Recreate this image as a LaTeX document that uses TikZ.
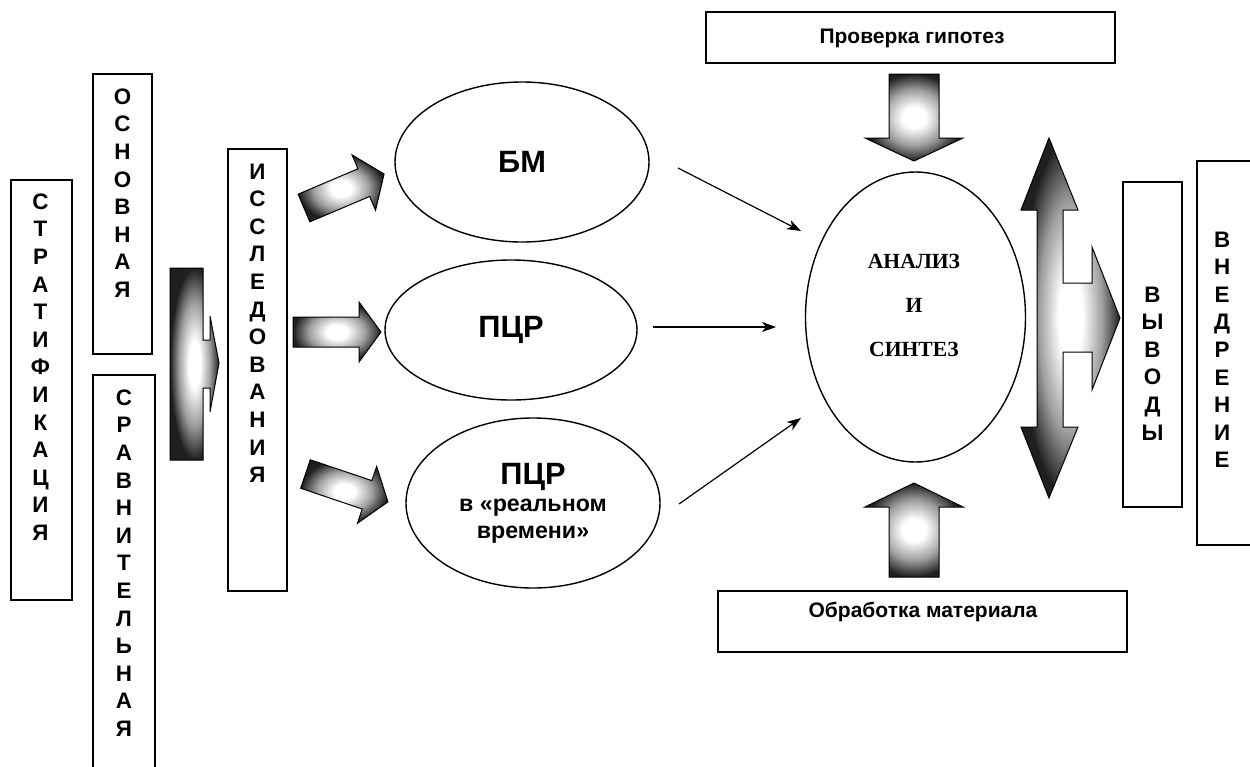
\documentclass[tikz,border=0pt]{standalone}
\usepackage{fontspec}
\setmainfont{Liberation Sans}
\newfontfamily\timesbold{Liberation Serif}
\usetikzlibrary{shapes.geometric,fit,calc,arrows.meta}
\pgfdeclareradialshading{glow}{\pgfpoint{0bp}{0bp}}{color(0bp)=(white); color(6bp)=(white); color(16bp)=(black!38); color(25bp)=(black!88); color(50bp)=(black!88)}

\begin{document}
\begin{tikzpicture}[x=0.5pt,y=-0.5pt]
    % `box' is used for the framed blocks, `letters' for words set letter by letter.
    % `oval' is used for the methods, `fat' for the shaded block arrows.
    % `link' is used for the thin arrows into the analysis.
    \tikzstyle{box} = [draw,line width=0.8pt,inner sep=0pt]
    \tikzstyle{letters} = [anchor=north,align=center,inner sep=0pt,font=\fontsize{11.2}{13.8}\selectfont\bfseries]
    \tikzstyle{oval} = [draw,ellipse,line width=0.7pt,inner sep=0pt,align=center,font=\fontsize{15.4}{18}\selectfont\bfseries]
    \tikzstyle{fat} = [draw,line width=0.5pt,shade,shading=glow]
    \tikzstyle{link} = [line width=0.6pt,-{Stealth[length=7pt,width=5pt,inset=2pt]}]
    \tikzstyle{caption} = [inner sep=0pt,font=\fontsize{10.5}{12}\selectfont\bfseries]
    \useasboundingbox (0,0) rectangle (1250,767);
    %
    % Left column of framed words.
    \node[box,fit={(11,180) (72,600)}] (strat) {};
    \node[letters] (strattext) at ($(strat.north)+(-1,14)$)
      {С\\Т\\Р\\А\\Т\\И\\Ф\\И\\К\\А\\Ц\\И\\Я};
    \node[box,fit={(93,74) (152,354)}] (osn) {};
    \node[letters] (osntext) at ($(osn.north)+(0,15)$)
      {О\\С\\Н\\О\\В\\Н\\А\\Я};
    \node[box,fit={(93,375) (155,790)}] (srav) {};
    \node[letters] (sravtext) at ($(srav.north)+(0,15)$)
      {С\\Р\\А\\В\\Н\\И\\Т\\Е\\Л\\Ь\\Н\\А\\Я};
    \node[box,fit={(228,149) (287,591)}] (issl) {};
    \node[letters] (issltext) at ($(issl.north)+(0,15)$)
      {И\\С\\С\\Л\\Е\\Д\\О\\В\\А\\Н\\И\\Я};
    %
    % Methods.
    \node[oval,minimum width=127pt,minimum height=80pt] (bm) at (522,162) {БМ};
    \node[oval,minimum width=126pt,minimum height=70pt] (pcr) at (511,330) {ПЦР};
    \node[oval,minimum width=127pt,minimum height=85pt,font=\fontsize{11.6}{13.5}\selectfont\bfseries] (rt) at (533,503)
      {{\fontsize{15.4}{13.5}\selectfont ПЦР}\\в «реальном\\времени»};
    %
    % Analysis and the blocks round it.
    \node[draw,ellipse,line width=0.7pt,minimum width=110pt,minimum height=145pt] (anal) at (915.5,317) {};
    \node[align=center,inner sep=0pt,font=\fontsize{10.8}{22}\selectfont\timesbold\bfseries] (analtext) at (914,305)
      {АНАЛИЗ\\И\\СИНТЕЗ};
    \node[box,fit={(706,12) (1115,63)}] (hyp) {};
    \node[caption,anchor=base] (hyptext) at (912,43) {Проверка гипотез};
    \node[box,fit={(718,591) (1127,652)}] (mat) {};
    \node[caption] (mattext) at (923,612) {Обработка материала};
    \node[box,fit={(1123,182) (1182,507)}] (vyv) {};
    \node[letters] (vyvtext) at ($(vyv.north)+(0,105)$)
      {В\\Ы\\В\\О\\Д\\Ы};
    \node[box,fit={(1197,161) (1265,545)}] (vned) {};
    \node[letters] (vnedtext) at ($(vned.north west)+(26,71)$)
      {В\\Н\\Е\\Д\\Р\\Е\\Н\\И\\Е};
    %
    % Thin links.
    \coordinate (bmout) at (678,168);  \coordinate (analin1) at (801,231);
    \coordinate (pcrout) at (653,327); \coordinate (analin2) at (776,327);
    \coordinate (rtout) at (679,504);  \coordinate (analin3) at (801,418);
    \draw[link] (bmout) -- (analin1);
    \draw[link] (pcrout) -- (analin2);
    \draw[link] (rtout) -- (analin3);
    %
    % Shaded block arrows.
    \path[fat] (170,268) -- (203,268) -- (203,340) -- (210,340) -- (210,316) -- (219,363)
      -- (210,412) -- (210,388) -- (203,388) -- (203,460) -- (170,460) -- cycle;
    \begin{scope}[shift={(304,208)},rotate=23]
      \path[fat] (0,-15) -- (65,-15) -- (65,-30) -- (87,0) -- (65,30) -- (65,15) -- (0,15) -- cycle;
    \end{scope}
    \begin{scope}[shift={(293,332)}]
      \path[fat] (0,-15) -- (66,-15) -- (66,-30) -- (88,0) -- (66,30) -- (66,15) -- (0,15) -- cycle;
    \end{scope}
    \begin{scope}[shift={(305.5,474)},rotate=-18.7]
      \path[fat] (0,-15) -- (65,-15) -- (65,-30) -- (87,0) -- (65,30) -- (65,15) -- (0,15) -- cycle;
    \end{scope}
    \path[fat] (889,74) -- (939,74) -- (939,138) -- (963,138) -- (914,161) -- (865,138) -- (889,138) -- cycle;
    \path[fat] (889,577) -- (939,577) -- (939,507) -- (963,507) -- (914,483) -- (865,507) -- (889,507) -- cycle;
    \path[fat] (1049,138) -- (1078,210) -- (1063,210) -- (1063,283) -- (1092,283) -- (1092,247)
      -- (1120,318) -- (1092,390) -- (1092,352) -- (1063,352) -- (1063,427) -- (1078,427)
      -- (1049,498) -- (1021,427) -- (1037,427) -- (1037,210) -- (1021,210) -- cycle;
\end{tikzpicture}
\end{document}
